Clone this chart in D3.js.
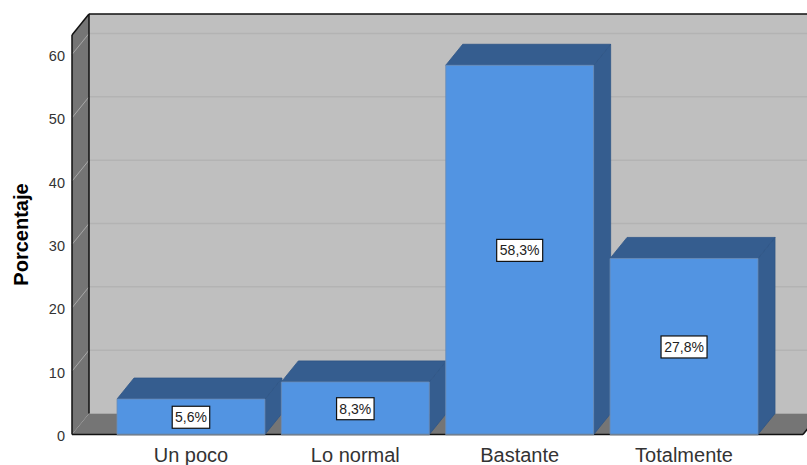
<!DOCTYPE html>
<html><head><meta charset="utf-8">
<script src="https://cdnjs.cloudflare.com/ajax/libs/d3/7.8.5/d3.min.js"></script>
<style>html,body{margin:0;padding:0;background:#fff;overflow:hidden}svg{display:block}text{font-family:"Liberation Sans",Arial,sans-serif}</style>
</head><body><svg id="c" width="807" height="465"></svg>
<script>
const categories = ["Un poco","Lo normal","Bastante","Totalmente"];
const values = [5.6,8.3,58.3,27.8];
const labels = ["5,6%","8,3%","58,3%","27,8%"];
const yTicks = [0,10,20,30,40,50,60];
const W=807,H=465, dx=17, dy=-21;
const x0=72, x1=803;
const svg=d3.select("#c");
const y=d3.scaleLinear().domain([0,60]).range([434.5,54.5]);
const yTop=35;
const x=d3.scaleBand().domain(categories).range([117,758]).paddingInner(0.1).paddingOuter(0);
const poly=(pts,fill,stroke,sw)=>svg.append("polygon").attr("points",pts.map(p=>p.join(",")).join(" ")).attr("fill",fill).attr("stroke",stroke||"none").attr("stroke-width",sw||0);
poly([[x0+dx,yTop+dy],[x1+dx,yTop+dy],[x1+dx,y(0)+dy],[x0+dx,y(0)+dy]],"#bfbfbf");
poly([[x0,yTop],[x0+dx,yTop+dy],[x0+dx,y(0)+dy],[x0,y(0)]],"#757575");
poly([[x0,y(0)],[x0+dx,y(0)+dy],[x1+dx,y(0)+dy],[x1,y(0)]],"#757575");
yTicks.slice(1).forEach(t=>{
  svg.append("line").attr("x1",x0+dx).attr("x2",W).attr("y1",y(t)+dy).attr("y2",y(t)+dy).attr("stroke","#b3b3b3").attr("stroke-width",1.5);
  svg.append("line").attr("x1",x0).attr("x2",x0+dx).attr("y1",y(t)).attr("y2",y(t)+dy).attr("stroke","#a8a8a8").attr("stroke-width",1);
});
const frame=[[[x0,y(0)],[x0,yTop]],[[x0,yTop],[x0+dx,yTop+dy]],[[x0+dx,yTop+dy],[W,yTop+dy]],[[x0+dx,yTop+dy],[x0+dx,y(0)+dy]],[[x0,y(0)],[x1,y(0)]],[[x1,y(0)],[x1+dx,y(0)+dy]]];
frame.forEach(l=>svg.append("line").attr("x1",l[0][0]).attr("y1",l[0][1]).attr("x2",l[1][0]).attr("y2",l[1][1]).attr("stroke","#111").attr("stroke-width",1.5));
categories.forEach((c,i)=>{
  const l=x(c),r=l+x.bandwidth(),t=y(values[i]),b=y(0);
  poly([[r,t],[r+dx,t+dy],[r+dx,b+dy],[r,b]],"#355d8f","#2f5686",0.8);
  poly([[l,t],[l+dx,t+dy],[r+dx,t+dy],[r,t]],"#355d8f","#2f5686",0.8);
  poly([[l,t],[r,t],[r,b],[l,b]],"#5294e2","#6d8db5",0.8);
});
svg.append("g").selectAll("line").data(categories).join("line")
  .attr("x1",d=>x(d)).attr("x2",d=>x(d)+x.bandwidth()).attr("y1",y(0)).attr("y2",y(0)).attr("stroke","#6d7f95").attr("stroke-width",1.5);
categories.forEach((c,i)=>{
  const cx=x(c)+x.bandwidth()/2, cy=(y(values[i])+y(0))/2+0.5;
  const w=labels[i].length>4?46:37.5;
  svg.append("rect").attr("x",cx-w/2).attr("y",cy-11).attr("width",w).attr("height",22).attr("fill","#fff").attr("stroke","#111").attr("stroke-width",1.2);
  svg.append("text").attr("x",cx).attr("y",cy+5).attr("text-anchor","middle").attr("font-size",14).attr("fill","#222").text(labels[i]);
});
const ax=svg.append("g").attr("transform",`translate(${x0},1.5)`).call(d3.axisLeft(y).tickValues(yTicks).tickSize(0).tickPadding(7).tickFormat(d3.format("d")));
ax.select(".domain").remove();
ax.selectAll("text").attr("font-size",14.5).attr("fill","#333").style("font-family",'"Liberation Sans"');
const bx=svg.append("g").attr("transform",`translate(0,${y(0)+1})`).call(d3.axisBottom(x).tickSize(0).tickPadding(12));
bx.select(".domain").remove();
bx.selectAll("text").attr("font-size",20).attr("fill","#333").style("font-family",'"Liberation Sans"');
svg.append("text").attr("transform","translate(28,234.5) rotate(-90)").attr("text-anchor","middle").attr("font-size",20).attr("font-weight","bold").attr("fill","#000").text("Porcentaje");
</script></body></html>
